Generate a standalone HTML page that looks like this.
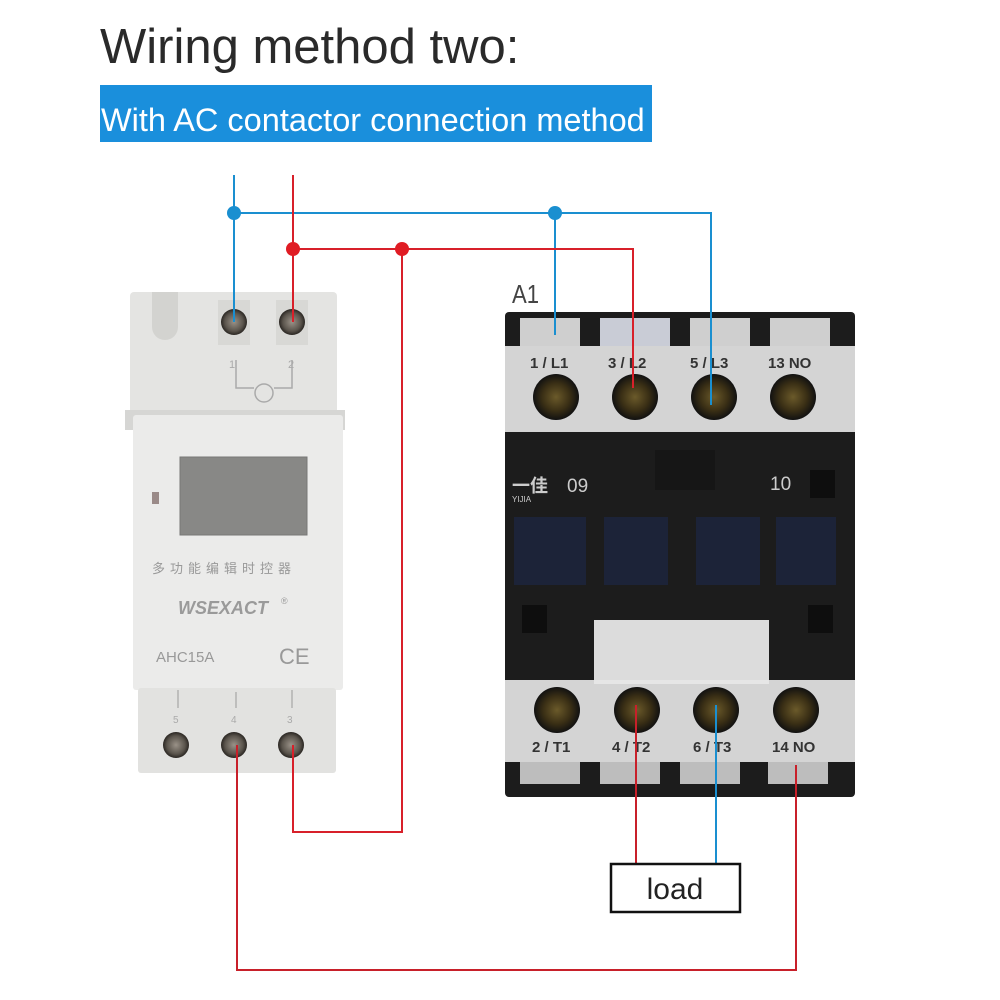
<!DOCTYPE html>
<html><head><meta charset="utf-8"><style>
html,body{margin:0;padding:0;background:#fff;}
svg{display:block;}
text{font-family:"Liberation Sans","Noto Sans CJK SC",sans-serif;}
</style></head><body>
<svg width="1000" height="1000" viewBox="0 0 1000 1000" xmlns="http://www.w3.org/2000/svg">
<defs>
<radialGradient id="scr" cx="50%" cy="50%" r="50%">
<stop offset="0" stop-color="#6b5a2a"/><stop offset="0.6" stop-color="#3a2f15"/><stop offset="1" stop-color="#111"/>
</radialGradient>
<radialGradient id="tscr" cx="50%" cy="50%" r="50%">
<stop offset="0" stop-color="#9a9288"/><stop offset="0.7" stop-color="#5a544c"/><stop offset="1" stop-color="#2a2622"/>
</radialGradient>
</defs>
<rect width="1000" height="1000" fill="#fff"/>
<text x="100" y="63" font-size="49" fill="#2a2a2a">Wiring method two:</text>
<rect x="100" y="85" width="552" height="57" fill="#1a8fdc"/>
<text x="101" y="131" font-size="32.5" fill="#fff">With AC contactor connection method</text>

<!-- Timer -->
<rect x="130" y="292" width="207" height="125" rx="4" fill="#e4e4e2"/>
<path d="M152 292 v35 a13 13 0 0 0 26 0 v-35 z" fill="#d3d3d0"/>
<rect x="218" y="300" width="32" height="45" fill="#d8d8d5"/>
<rect x="276" y="300" width="32" height="45" fill="#d8d8d5"/>
<path d="M236 360 v28 h18 M274 388 h18 v-28" stroke="#aaa" fill="none" stroke-width="1.5"/>
<circle cx="264" cy="393" r="9" fill="none" stroke="#aaa" stroke-width="1.5"/>
<text x="229" y="368" font-size="11" fill="#aaa">1</text><text x="288" y="368" font-size="11" fill="#aaa">2</text>
<rect x="125" y="410" width="220" height="20" fill="#d6d6d4"/>
<rect x="133" y="415" width="210" height="275" rx="3" fill="#ebebea"/>
<rect x="180" y="457" width="127" height="78" fill="#888886" stroke="#777" stroke-width="1"/>
<rect x="152" y="492" width="7" height="12" fill="#9a8a88"/>
<text x="152" y="573" font-size="13" fill="#999" letter-spacing="5">多功能编辑时控器</text>
<text x="178" y="614" font-size="18" font-weight="bold" font-style="italic" fill="#9a9a9a">WSEXACT</text>
<text x="281" y="604" font-size="9" fill="#9a9a9a">®</text>
<text x="156" y="662" font-family="Liberation Serif" font-size="15" fill="#999">AHC15A</text>
<text x="279" y="664" font-size="22" fill="#999">CE</text>
<rect x="138" y="688" width="198" height="85" rx="3" fill="#e2e2e0"/>
<path d="M178 690 v18 M236 692 v16 M292 690 v18" stroke="#aaa" stroke-width="1.3"/>
<text x="173" y="723" font-size="10" fill="#aaa">5</text><text x="231" y="723" font-size="10" fill="#aaa">4</text><text x="287" y="723" font-size="10" fill="#aaa">3</text>
<circle cx="234" cy="322" r="13" fill="url(#tscr)"/><circle cx="292" cy="322" r="13" fill="url(#tscr)"/>
<circle cx="176" cy="745" r="13" fill="url(#tscr)"/><circle cx="234" cy="745" r="13" fill="url(#tscr)"/><circle cx="291" cy="745" r="13" fill="url(#tscr)"/>

<!-- Contactor -->
<text x="512" y="303" font-size="26" fill="#444" transform="translate(512 0) scale(0.85 1) translate(-512 0)">A1</text>
<rect x="505" y="312" width="350" height="485" rx="4" fill="#1c1c1c"/>
<rect x="520" y="318" width="60" height="30" fill="#cfcfcf"/>
<rect x="600" y="318" width="70" height="30" fill="#c9ccd6"/>
<rect x="690" y="318" width="60" height="30" fill="#cfcfcf"/>
<rect x="770" y="318" width="60" height="30" fill="#cfcfcf"/>
<rect x="505" y="346" width="350" height="86" fill="#d4d4d4"/>
<text x="530" y="368" font-size="15" font-weight="bold" fill="#333">1 / L1</text>
<text x="608" y="368" font-size="15" font-weight="bold" fill="#333">3 / L2</text>
<text x="690" y="368" font-size="15" font-weight="bold" fill="#333">5 / L3</text>
<text x="768" y="368" font-size="15" font-weight="bold" fill="#333">13 NO</text>
<circle cx="556" cy="397" r="23" fill="url(#scr)"/><circle cx="635" cy="397" r="23" fill="url(#scr)"/>
<circle cx="714" cy="397" r="23" fill="url(#scr)"/><circle cx="793" cy="397" r="23" fill="url(#scr)"/>
<rect x="655" y="450" width="60" height="40" fill="#161616"/>
<rect x="810" y="470" width="25" height="28" fill="#0e0e0e"/>
<text x="512" y="492" font-size="18" font-weight="bold" fill="#ccc">一佳</text>
<text x="512" y="502" font-size="8" fill="#ccc">YIJIA</text>
<text x="567" y="492" font-size="19" fill="#ccc">09</text>
<text x="770" y="490" font-size="19" fill="#ccc">10</text>
<rect x="514" y="517" width="72" height="68" fill="#1c2338"/>
<rect x="604" y="517" width="64" height="68" fill="#1c2338"/>
<rect x="696" y="517" width="64" height="68" fill="#1c2338"/>
<rect x="776" y="517" width="60" height="68" fill="#1c2338"/>
<rect x="522" y="605" width="25" height="28" fill="#0e0e0e"/>
<rect x="808" y="605" width="25" height="28" fill="#0e0e0e"/>
<rect x="594" y="620" width="175" height="62" fill="#dcdcdc"/>
<rect x="505" y="680" width="350" height="82" fill="#d4d4d4"/>
<rect x="594" y="680" width="175" height="4" fill="#e6e6e6"/>
<text x="532" y="752" font-size="15" font-weight="bold" fill="#333">2 / T1</text>
<text x="612" y="752" font-size="15" font-weight="bold" fill="#333">4 / T2</text>
<text x="693" y="752" font-size="15" font-weight="bold" fill="#333">6 / T3</text>
<text x="772" y="752" font-size="15" font-weight="bold" fill="#333">14 NO</text>
<circle cx="557" cy="710" r="23" fill="url(#scr)"/><circle cx="637" cy="710" r="23" fill="url(#scr)"/>
<circle cx="716" cy="710" r="23" fill="url(#scr)"/><circle cx="796" cy="710" r="23" fill="url(#scr)"/>
<rect x="520" y="762" width="60" height="22" fill="#bdbdbd"/>
<rect x="600" y="762" width="60" height="22" fill="#bdbdbd"/>
<rect x="680" y="762" width="60" height="22" fill="#bdbdbd"/>
<rect x="768" y="762" width="60" height="22" fill="#bdbdbd"/>

<!-- Wires -->
<g fill="none" stroke-width="2">
<path d="M234 175 V322 M234 213 H711 V405 M555 213 V335" stroke="#1a8fd0"/>
<path d="M293 175 V322 M293 249 H633 V388 M402 249 V832 H293 V745" stroke="#d8202a"/>
<path d="M237 745 V970 H796 V765" stroke="#c8202a"/>
<path d="M636 705 V863" stroke="#c8202a"/>
<path d="M716 705 V863" stroke="#1a8fd0"/>
</g>
<circle cx="234" cy="213" r="7" fill="#1a8fd0"/><circle cx="555" cy="213" r="7" fill="#1a8fd0"/>
<circle cx="293" cy="249" r="7" fill="#e01c24"/><circle cx="402" cy="249" r="7" fill="#e01c24"/>

<rect x="611" y="864" width="129" height="48" fill="#fff" stroke="#111" stroke-width="2.5"/>
<text x="675" y="899" font-size="30" fill="#222" text-anchor="middle">load</text>
</svg>
</body></html>
